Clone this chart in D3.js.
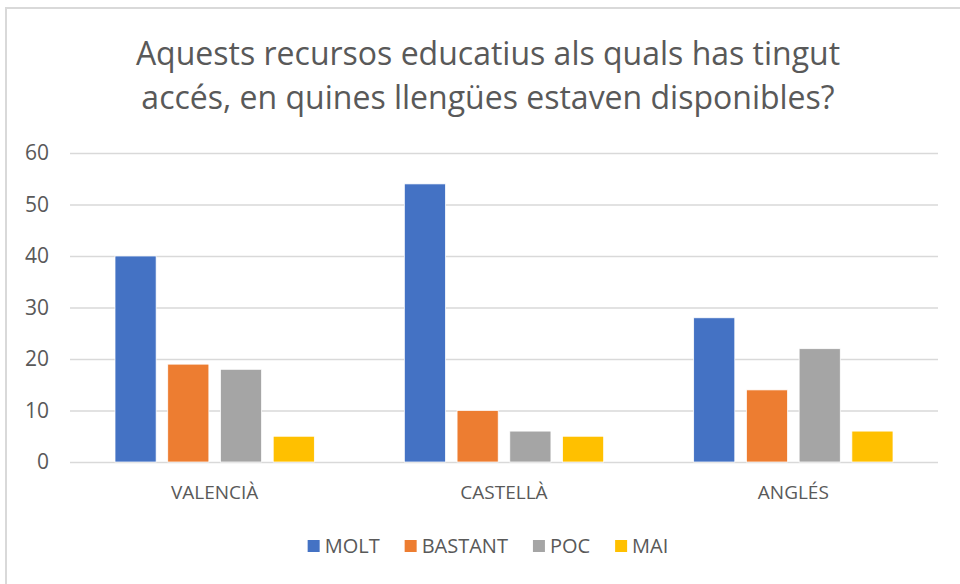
<!DOCTYPE html>
<html>
<head>
<meta charset="utf-8">
<script src="https://cdn.jsdelivr.net/npm/d3@7"></script>
<style>
  body { margin: 0; background: #fff; }
  text { font-family: "Open Sans", "Noto Sans", sans-serif; fill: #595959; }
</style>
</head>
<body>
<script>
//chart data
var categories = ["VALENCIÀ", "CASTELLÀ", "ANGLÉS"];
var seriesNames = ["MOLT", "BASTANT", "POC", "MAI"];
var molt = [40, 54, 28];
var bastant = [19, 10, 14];
var poc = [18, 6, 22];
var mai = [5, 5, 6];
var yTicks = [0, 10, 20, 30, 40, 50, 60];
var colors = ["#4472C4", "#ED7D31", "#A5A5A5", "#FFC000"];
var titleLines = ["Aquests recursos educatius als quals has tingut",
                  "accés, en quines llengües estaven disponibles?"];

window.onload = drawChart();

function drawChart(){
    var width = 960,
        height = 584,
        centerX = 488;

    var svg = d3.select("body")
        .append("svg")
        .attr("width", width)
        .attr("height", height);

    //chart frame
    svg.append("rect")
        .attr("x", 6)
        .attr("y", 8)
        .attr("width", 970)
        .attr("height", 600)
        .attr("fill", "#fff")
        .attr("stroke", "#d9d9d9")
        .attr("stroke-width", 2);

    //title
    svg.selectAll(".title")
        .data(titleLines)
        .enter()
        .append("text")
        .attr("class", "title")
        .attr("x", centerX)
        .attr("y", function(d, i){ return 65 + i * 44; })
        .attr("text-anchor", "middle")
        .style("font-size", "32px")
        .text(function(d){ return d; });

    var plot = { left: 70, right: 938, top: 153, bottom: 462 };

    var y = d3.scaleLinear()
        .domain([0, 60])
        .range([plot.bottom, plot.top]);

    var x0 = d3.scaleBand()
        .domain(categories)
        .range([plot.left, plot.right]);

    var x1 = d3.scaleBand()
        .domain(seriesNames)
        .range([45, x0.bandwidth() - 45])
        .paddingInner(0.22);

    //y axis with gridlines
    var yAxis = svg.append("g")
        .attr("class", "y axis")
        .attr("transform", "translate(" + plot.left + ",0)")
        .call(d3.axisLeft(y)
            .tickValues(yTicks)
            .tickSize(-(plot.right - plot.left))
            .tickPadding(21));
    yAxis.select(".domain").remove();
    yAxis.selectAll("line")
        .attr("stroke", "#d9d9d9")
        .attr("stroke-width", 1.5);
    yAxis.selectAll("text")
        .style("font-size", "21px")
        .style("font-family", "\"Open Sans\", sans-serif")
        .attr("fill", "#595959");

    //x axis labels
    var xAxis = svg.append("g")
        .attr("class", "x axis")
        .attr("transform", "translate(0," + plot.bottom + ")")
        .call(d3.axisBottom(x0).tickSize(0).tickPadding(24));
    xAxis.select(".domain").remove();
    xAxis.selectAll("text")
        .style("font-size", "19px")
        .style("font-family", "\"Open Sans\", sans-serif")
        .attr("fill", "#595959");

    //bars
    var seriesValues = [molt, bastant, poc, mai];
    var groups = svg.selectAll(".group")
        .data(categories)
        .enter()
        .append("g")
        .attr("class", "group")
        .attr("transform", function(d){ return "translate(" + x0(d) + ",0)"; });

    groups.selectAll("rect")
        .data(function(d, ci){
            return seriesNames.map(function(s, si){
                return { series: s, value: seriesValues[si][ci], color: colors[si] };
            });
        })
        .enter()
        .append("rect")
        .attr("x", function(d){ return x1(d.series); })
        .attr("y", function(d){ return y(d.value); })
        .attr("width", x1.bandwidth())
        .attr("height", function(d){ return y(0) - y(d.value); })
        .attr("fill", function(d){ return d.color; })
        .attr("stroke", "#fff")
        .attr("stroke-width", 0.75);

    //legend
    var legend = svg.append("g").attr("class", "legend");
    var items = legend.selectAll(".item")
        .data(seriesNames)
        .enter()
        .append("g")
        .attr("class", "item");
    items.append("rect")
        .attr("width", 12)
        .attr("height", 12)
        .attr("y", -13)
        .attr("fill", function(d, i){ return colors[i]; });
    items.append("text")
        .attr("x", 17)
        .style("font-size", "20px")
        .text(function(d){ return d; });

    //lay out legend items side by side and center them
    var offset = 0, gap = 25;
    items.each(function(){
        var w = this.getBBox().width;
        d3.select(this).attr("data-x", offset);
        offset += w + gap;
    });
    var total = offset - gap;
    items.attr("transform", function(){
        return "translate(" + (centerX - total / 2 + (+d3.select(this).attr("data-x"))) + ",553)";
    });
}
</script>
</body>
</html>
